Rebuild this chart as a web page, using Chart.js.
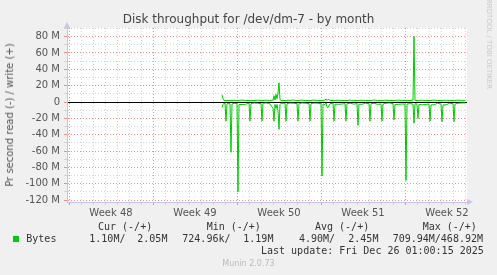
<!DOCTYPE html>
<html>
<head>
<meta charset="utf-8">
<script src="https://cdn.jsdelivr.net/npm/chart.js@4/dist/chart.umd.min.js"></script>
<style>
  body { margin: 0; background: #f0f0f0; width: 497px; height: 275px; overflow: hidden; position: relative; font-family: "DejaVu Sans"; }
  #c { position: absolute; left: 0; top: 0; }
  .t { position: absolute; white-space: pre; line-height: 12px; }
  .m { font-family: "DejaVu Sans Mono"; font-size: 10px; color: #333; }
</style>
</head>
<body>
<canvas id="c" width="497" height="275"></canvas>
<div class="t" style="left:0;width:497px;text-align:center;top:12px;font-size:12px;color:#444;line-height:14px">Disk throughput for /dev/dm-7 - by month</div>
<div class="t" style="left:10px;top:115px;font-size:10px;color:#555;transform:translate(-50%,-50%) rotate(-90deg)">Pr second read (-) / write (+)</div>
<div class="t" style="left:489px;top:44px;font-size:7px;color:#c8c8c8;transform:translate(-50%,-50%) rotate(90deg)">RRDTOOL / TOBI OETIKER</div>

<div class="t m" style="left:98px;top:221px">Cur (-/+)</div>
<div class="t m" style="left:206.7px;top:221px">Min (-/+)</div>
<div class="t m" style="left:315px;top:221px">Avg (-/+)</div>
<div class="t m" style="left:422.7px;top:221px">Max (-/+)</div>

<div style="position:absolute;left:13px;top:236px;width:6px;height:6px;background:#00cc00"></div>
<div class="t m" style="left:26.3px;top:233px">Bytes</div>
<div class="t m" style="left:89.3px;top:233px">1.10M/</div>
<div class="t m" style="left:137.3px;top:233px">2.05M</div>
<div class="t m" style="left:182.3px;top:233px">724.96k/</div>
<div class="t m" style="left:243.3px;top:233px">1.19M</div>
<div class="t m" style="left:299px;top:233px">4.90M/</div>
<div class="t m" style="left:348.3px;top:233px">2.45M</div>
<div class="t m" style="left:392.7px;top:233px">709.94M/468.92M</div>
<div class="t m" style="left:261px;top:245px">Last update: Fri Dec 26 01:00:15 2025</div>
<div class="t" style="left:0;width:497px;text-align:center;top:258px;font-size:8px;color:#bbb">Munin 2.0.73</div>

<script>
// time in hours from the left edge of the graph (800 h shown)
const hours = [310, 312, 314, 316, 318, 320, 326, 328, 330, 334, 340, 342, 344, 350, 357, 364, 366, 368, 374, 381,
  388, 390, 392, 398, 405, 412, 414, 416, 418, 420, 422, 424, 426, 428, 434, 436, 438, 440, 446, 453,
  460, 462, 464, 470, 477, 484, 486, 488, 494, 501, 508, 510, 512, 516, 518, 520, 522, 526, 532, 534,
  536, 542, 549, 556, 558, 560, 566, 573, 580, 582, 584, 590, 597, 604, 606, 608, 614, 621, 628, 630,
  632, 638, 645, 652, 654, 656, 662, 669, 676, 678, 680, 686, 692, 694, 696, 700, 702, 704, 710, 717,
  724, 726, 728, 734, 741, 748, 750, 752, 758, 765, 772, 774, 776, 782, 789, 796];

// write (+), MB/s
const writeMB = [8.6, 4, 2, 1.8, 1.5, 2, 1.8, 2, 1.6, 2.2, 1.8, 1.5, 2, 2.4, 1.8, 2, 1.5, 2, 1.7, 2.3,
  1.8, 1.6, 2, 2.2, 1.8, 2.4, 7.7, 2.5, 9.4, 4, 11, 23.6, 3, 2, 1.8, 1.6, 1.5, 2.2, 2, 2.4,
  1.8, 1.6, 2, 2.3, 1.8, 2, 1.5, 2, 2.4, 1.8, 2, 1.6, 2, 2.5, 3.8, 2, 3.3, 2, 1.8, 1.5,
  2, 2.2, 1.8, 2, 1.6, 2, 2.3, 1.8, 2, 1.5, 2, 2.2, 1.8, 2, 1.5, 2, 2.4, 1.9, 2, 1.6,
  2, 2.2, 1.8, 2, 1.5, 2, 2.3, 1.8, 2, 1.6, 2, 1.8, 2.2, 80.4, 2, 1.8, 1.5, 2, 2.2, 1.8,
  2, 1.5, 2, 2.3, 1.8, 2, 1.5, 2, 2.2, 1.8, 2, 1.6, 2, 2.3, 1.9, 2.05];

// read (-), MB/s drawn below zero
const readMB = [-6.8, -3, -1.5, -1.8, -23.3, -2, -2, -61.5, -2.5, -1.5, -2, -110, -3, -3, -2.8, -1.5, -23.3, -2, -1.2, -1.5,
  -2, -23.3, -1.5, -1.2, -1.8, -7.7, -23.3, -3, -8, -3, -11, -33.5, -3, -1.5, -1.5, -1.8, -23.3, -2, -1.3, -1.5,
  -2, -23.3, -1.8, -1.2, -1.5, -2, -23.3, -2, -1.3, -1.5, -2, -90.6, -2.5, -3, -1, -6, -7, -2, -1.5, -23.3,
  -2.5, -2.8, -2.5, -2, -23.3, -2, -1.5, -2.5, -2, -28.6, -2.5, -2.8, -1.5, -2, -23.3, -2, -1.5, -2.8, -2.5, -23.3,
  -2.5, -1.5, -1.2, -2, -22, -3, -2.8, -2.5, -2.5, -96, -2.5, -2, -2.5, -26, -2, -2.5, -20, -3, -3.5, -3,
  -2.5, -23.5, -3.5, -3.5, -1.5, -2.5, -24, -3.5, -3.5, -1.5, -2, -24, -2.5, -1.5, -1.2, -1.1];

const dayLines = [4, 28, 52, 76, 100, 124, 148, 172, 196, 220, 244, 268, 292, 316, 340, 364, 388, 412, 436,
  460, 484, 508, 532, 556, 580, 604, 628, 652, 676, 700, 724, 748, 772, 796];
const weekLines = [4, 172, 340, 508, 676];
const weekLabelHours = [88, 256, 424, 592, 760];
const weekLabels = ['Week 48', 'Week 49', 'Week 50', 'Week 51', 'Week 52'];
const yTicks = [-120, -110, -100, -90, -80, -70, -60, -50, -40, -30, -20, -10, 0, 10, 20, 30, 40, 50, 60, 70, 80, 90];

const RED = 'rgba(235,110,110,0.75)';
const GREY = '#d4d4d4';
const AXIS = '#c4c4ee';

const plotBg = {
  id: 'plotBg',
  beforeDraw(chart) {
    const a = chart.chartArea, ctx = chart.ctx;
    ctx.save();
    ctx.fillStyle = '#fff';
    ctx.fillRect(a.left, a.top, a.right - a.left, a.bottom - a.top);
    ctx.restore();
  },
  afterDraw(chart) {
    const a = chart.chartArea, ctx = chart.ctx;
    ctx.save();
    ctx.fillStyle = AXIS;
    ctx.beginPath();
    ctx.moveTo(a.left - 3, a.top);
    ctx.lineTo(a.left + 3, a.top);
    ctx.lineTo(a.left, a.top - 6);
    ctx.closePath();
    ctx.fill();
    ctx.beginPath();
    ctx.moveTo(a.right, a.bottom - 3);
    ctx.lineTo(a.right, a.bottom + 3);
    ctx.lineTo(a.right + 6, a.bottom);
    ctx.closePath();
    ctx.fill();
    ctx.restore();
  }
};

new Chart(document.getElementById('c'), {
  type: 'line',
  data: {
    datasets: [
      {
        label: 'read',
        data: hours.map((h, i) => ({ x: h, y: readMB[i] })),
        borderColor: '#00cc00',
        borderWidth: 1,
        pointRadius: 0,
        tension: 0
      },
      {
        label: 'write',
        data: hours.map((h, i) => ({ x: h, y: writeMB[i] })),
        borderColor: '#00cc00',
        borderWidth: 1,
        pointRadius: 0,
        tension: 0
      }
    ]
  },
  options: {
    responsive: false,
    animation: false,
    layout: { padding: { top: 28, right: 30, bottom: 50, left: 0 } },
    plugins: { legend: { display: false }, tooltip: { enabled: false } },
    scales: {
      x: {
        type: 'linear',
        position: 'bottom',
        min: 0,
        max: 800,
        afterBuildTicks: s => { s.ticks = dayLines.map(v => ({ value: v })); },
        afterFit: s => { s.height = 3; },
        ticks: { display: false, autoSkip: false },
        grid: {
          color: c => weekLines.includes(c.tick.value) ? RED : GREY,
          tickColor: c => weekLines.includes(c.tick.value) ? RED : GREY,
          tickLength: 3
        },
        border: { color: AXIS, dash: [1, 2] }
      },
      xw: {
        type: 'linear',
        position: 'bottom',
        min: 0,
        max: 800,
        afterBuildTicks: s => { s.ticks = weekLabelHours.map(v => ({ value: v })); },
        afterFit: s => { s.height = 20; },
        ticks: {
          autoSkip: false,
          maxRotation: 0,
          padding: -6,
          color: '#555',
          font: { family: 'DejaVu Sans', size: 10 },
          callback: (v, i) => weekLabels[i]
        },
        grid: { display: false },
        border: { display: false }
      },
      y: {
        type: 'linear',
        min: -122.4,
        max: 90.6,
        afterBuildTicks: s => { s.ticks = yTicks.map(v => ({ value: v })); },
        afterFit: s => { s.width = 67; },
        ticks: {
          autoSkip: false,
          padding: 4,
          color: '#555',
          font: { family: 'DejaVu Sans', size: 10 },
          callback: v => v % 20 !== 0 ? '' : (v === 0 ? '0' : v + ' M')
        },
        grid: {
          color: c => c.tick.value === 0 ? '#000' : (c.tick.value % 20 === 0 ? RED : GREY),
          tickColor: c => c.tick.value % 20 === 0 ? RED : GREY,
          tickLength: 3
        },
        border: { color: AXIS, dash: c => (c.tick && c.tick.value === 0) ? [] : [1, 2] }
      }
    }
  },
  plugins: [plotBg]
});
</script>
</body>
</html>
